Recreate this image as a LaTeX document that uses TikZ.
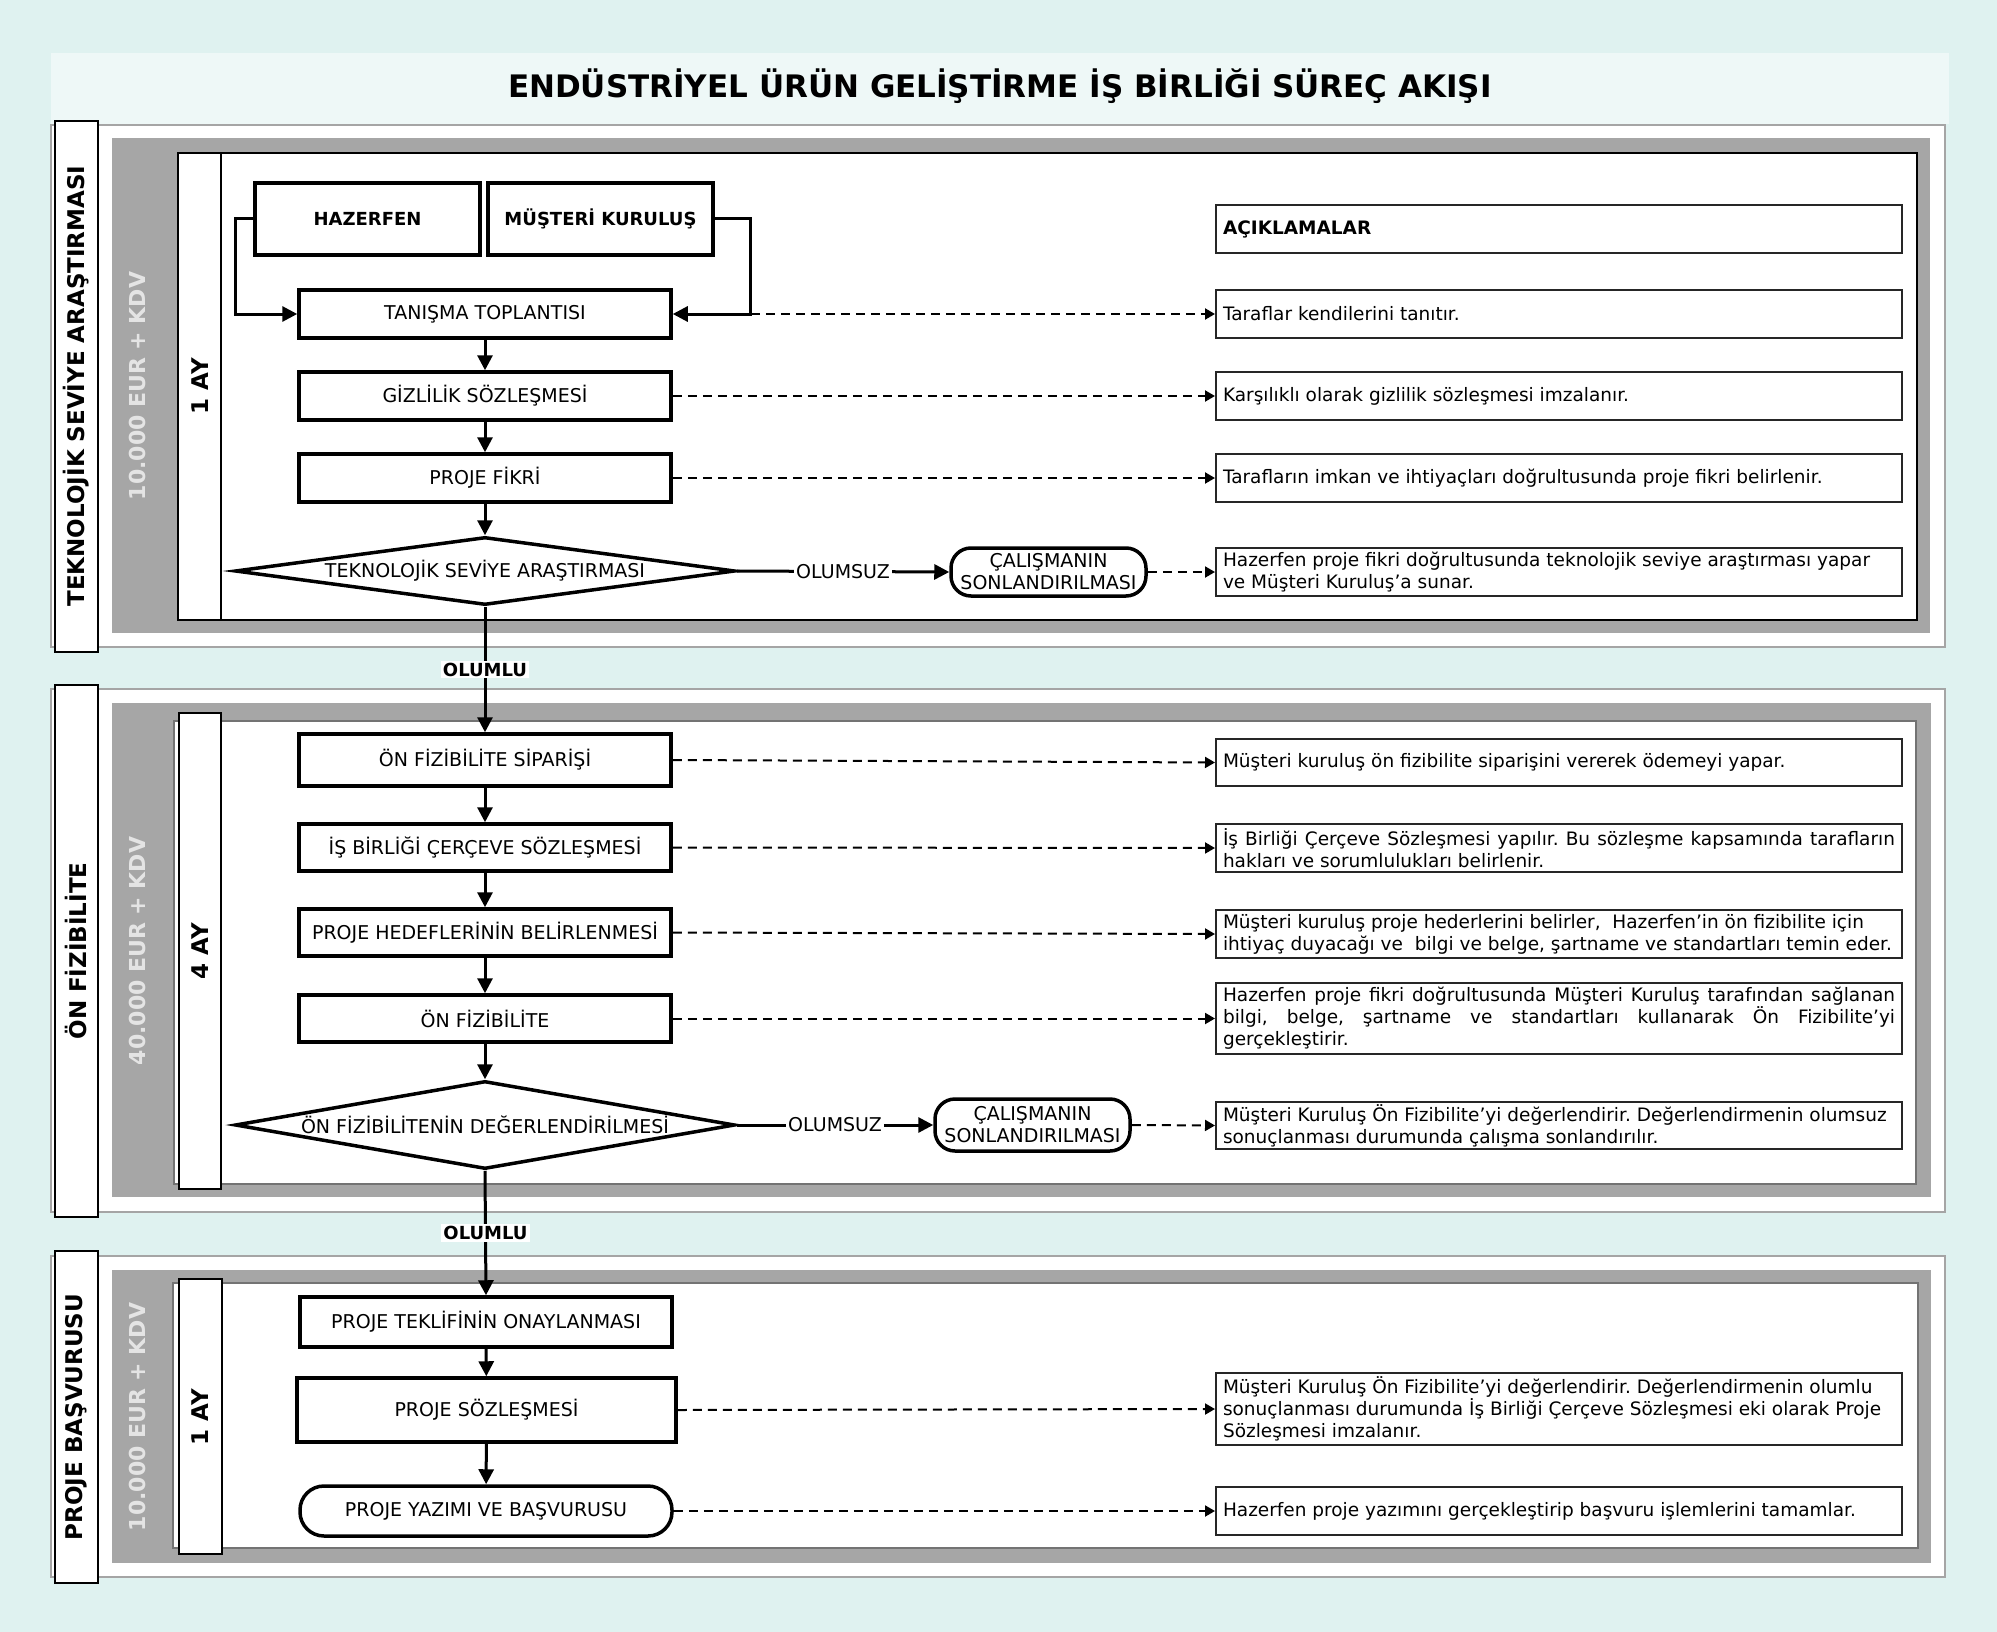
\documentclass[tikz,border=0pt]{standalone}
\usepackage{fontspec}
\setmainfont{DejaVu Sans}
\newfontfamily\lanefont{DejaVu Sans}
\usetikzlibrary{arrows.meta,shapes.geometric}
\frenchspacing

\definecolor{pagebg}{RGB}{223,242,240}
\definecolor{titleband}{RGB}{238,248,247}
\definecolor{panelgrey}{RGB}{166,166,166}
\definecolor{framegrey}{RGB}{165,165,165}
\definecolor{kdvgrey}{RGB}{228,228,228}

\tikzset{
  stepbox/.style={draw, fill=white, line width=3.5pt, minimum width=372pt, minimum height=48pt,
    inner sep=2pt, font=\fontsize{19}{23}\selectfont},
  decision/.style={diamond, draw, fill=white, line width=3.5pt, inner sep=0pt,
    minimum width=500pt, font=\fontsize{19}{23}\selectfont},
  endbox/.style={draw, fill=white, rounded corners=20pt, line width=3.5pt, align=center,
    minimum width=195pt, inner sep=1pt, font=\fontsize{19}{22}\selectfont},
  note/.style={draw=black!85, fill=white, line width=2pt, text width=672pt, inner xsep=7pt,
    inner ysep=2pt, align=justify, font=\fontsize{18.5}{22}\selectfont},
  lanelabel/.style={rotate=90, font=\lanefont\bfseries\fontsize{23}{27}\selectfont},
  costlabel/.style={rotate=90, text=kdvgrey, font=\lanefont\bfseries\fontsize{22}{26}\selectfont},
  flow/.style={line width=3pt, -{Triangle[length=15pt,width=15pt]}},
  notelink/.style={line width=2pt, dash pattern=on 9pt off 6pt, -{Triangle[length=10pt,width=11pt]}},
  answer/.style={fill=white, inner sep=2pt, font=\fontsize{19}{23}\selectfont},
}

\begin{document}
\begin{tikzpicture}[x=1pt, y=-1pt]
\useasboundingbox (0,0) rectangle (1997,1632);
\fill[pagebg] (0,0) rectangle (1997,1632);

% baslik
\fill[titleband] (51,53) rectangle (1949,124);
\node[font=\bfseries\fontsize{31}{35}\selectfont] (title) at (1000,86)
  {ENDÜSTRİYEL ÜRÜN GELİŞTİRME İŞ BİRLİĞİ SÜREÇ AKIŞI};

% 1. asama
\filldraw[fill=white, draw=framegrey, line width=2pt] (51,125) rectangle (1945,647);
\fill[panelgrey] (112,138) rectangle (1930,633);
\draw[fill=white, line width=2pt] (178,153) rectangle (1917,620);
\draw[line width=1.5pt] (221,153) -- (221,620);
\draw[fill=white, line width=2.5pt] (55,121) rectangle (98,652);
\node[lanelabel] (lane1) at (76,386) {TEKNOLOJİK SEVİYE ARAŞTIRMASI};
\node[costlabel] (cost1) at (137,386) {10.000 EUR + KDV};
\node[lanelabel] (time1) at (200,386) {1 AY};

% 2. asama
\filldraw[fill=white, draw=framegrey, line width=2pt] (51,689) rectangle (1945,1212);
\fill[panelgrey] (112,703) rectangle (1931,1197);
\draw[fill=white, draw=black!55, line width=2pt] (174,721) rectangle (1916,1184);
\draw[fill=white, line width=2pt] (179,713) rectangle (221,1189);
\draw[fill=white, line width=2.5pt] (55,685) rectangle (98,1217);
\node[lanelabel] (lane2) at (76,951) {ÖN FİZİBİLİTE};
\node[costlabel] (cost2) at (137,951) {40.000 EUR + KDV};
\node[lanelabel] (time2) at (200,951) {4 AY};

% 3. asama
\filldraw[fill=white, draw=framegrey, line width=2pt] (51,1256) rectangle (1945,1577);
\fill[panelgrey] (112,1270) rectangle (1931,1563);
\draw[fill=white, draw=black!55, line width=2pt] (173,1283) rectangle (1918,1548);
\draw[fill=white, line width=2pt] (179,1279) rectangle (222,1554);
\draw[fill=white, line width=2.5pt] (55,1251) rectangle (98,1583);
\node[lanelabel] (lane3) at (76,1417) {PROJE BAŞVURUSU};
\node[costlabel] (cost3) at (137,1417) {10.000 EUR + KDV};
\node[lanelabel] (time3) at (200,1417) {1 AY};

% adimlar
\node[stepbox, minimum width=225pt, minimum height=72pt, font=\bfseries\fontsize{18}{22}\selectfont] (hazerfen) at (367.5,219) {HAZERFEN};
\node[stepbox, minimum width=225pt, minimum height=72pt, font=\bfseries\fontsize{18}{22}\selectfont] (musteri) at (600.5,219) {MÜŞTERİ KURULUŞ};
\node[stepbox] (tanisma) at (485,314) {TANIŞMA TOPLANTISI};
\node[stepbox] (gizlilik) at (485,396) {GİZLİLİK SÖZLEŞMESİ};
\node[stepbox] (fikir) at (485,478) {PROJE FİKRİ};
\node[decision, aspect=7.4, minimum height=68pt] (arastirma) at (485,571) {TEKNOLOJİK SEVİYE ARAŞTIRMASI};
\node[endbox, minimum height=48pt] (son1) at (1048.5,572) {ÇALIŞMANIN\\SONLANDIRILMASI};

\node[stepbox, minimum height=52pt] (siparis) at (485,760) {ÖN FİZİBİLİTE SİPARİŞİ};
\node[stepbox, minimum height=47pt] (isbirligi) at (485,847.5) {İŞ BİRLİĞİ ÇERÇEVE SÖZLEŞMESİ};
\node[stepbox, minimum height=47pt] (hedef) at (485,932.5) {PROJE HEDEFLERİNİN BELİRLENMESİ};
\node[stepbox, minimum height=47pt] (onfiz) at (485,1018.5) {ÖN FİZİBİLİTE};
\node[decision, aspect=5.7, minimum height=88pt] (degerlendirme) at (485,1125) {ÖN FİZİBİLİTENİN DEĞERLENDİRİLMESİ};
\node[endbox, minimum height=52pt] (son2) at (1032.5,1125) {ÇALIŞMANIN\\SONLANDIRILMASI};

\node[stepbox, minimum height=50pt] (teklif) at (486,1322) {PROJE TEKLİFİNİN ONAYLANMASI};
\node[stepbox, minimum width=379pt, minimum height=64pt] (sozlesme) at (486.5,1410) {PROJE SÖZLEŞMESİ};
\node[stepbox, rounded corners=24pt, minimum height=50pt] (yazim) at (486,1511) {PROJE YAZIMI VE BAŞVURUSU};

% aciklamalar
\node[note, minimum height=48pt, font=\bfseries\fontsize{18.5}{22}\selectfont] (aciklama) at (1559,229) {AÇIKLAMALAR};
\node[note, minimum height=48pt] (not1) at (1559,314) {Taraflar kendilerini tanıtır.};
\node[note, minimum height=48pt] (not2) at (1559,396) {Karşılıklı olarak gizlilik sözleşmesi imzalanır.};
\node[note, minimum height=48pt] (not3) at (1559,478) {Tarafların imkan ve ihtiyaçları doğrultusunda proje fikri belirlenir.};
\node[note, minimum height=48pt] (not4) at (1559,572) {Hazerfen proje fikri doğrultusunda teknolojik seviye araştırması yapar\newline ve Müşteri Kuruluş’a sunar.};
\node[note, minimum height=47pt] (not5) at (1559,762.5) {Müşteri kuruluş ön fizibilite siparişini vererek ödemeyi yapar.};
\node[note, minimum height=48pt] (not6) at (1559,848) {İş Birliği Çerçeve Sözleşmesi yapılır. Bu sözleşme kapsamında tarafların\linebreak hakları ve sorumlulukları belirlenir.};
\node[note, minimum height=48pt] (not7) at (1559,934) {Müşteri kuruluş proje hederlerini belirler,~ Hazerfen’in ön fizibilite için\newline ihtiyaç duyacağı ve~ bilgi ve belge, şartname ve standartları temin eder.};
\node[note, minimum height=71pt] (not8) at (1559,1018.5) {Hazerfen proje fikri doğrultusunda Müşteri Kuruluş tarafından sağlanan\linebreak bilgi, belge, şartname ve standartları kullanarak Ön Fizibilite’yi\linebreak gerçekleştirir.};
\node[note, minimum height=47pt] (not9) at (1559,1125.5) {Müşteri Kuruluş Ön Fizibilite’yi değerlendirir. Değerlendirmenin olumsuz\newline sonuçlanması durumunda çalışma sonlandırılır.};
\node[note, minimum height=72pt] (not10) at (1559,1409) {Müşteri Kuruluş Ön Fizibilite’yi değerlendirir. Değerlendirmenin olumlu\newline sonuçlanması durumunda İş Birliği Çerçeve Sözleşmesi eki olarak Proje\newline Sözleşmesi imzalanır.};
\node[note, minimum height=48pt] (not11) at (1559,1511) {Hazerfen proje yazımını gerçekleştirip başvuru işlemlerini tamamlar.};

% akis oklari
\draw[flow] (hazerfen.west) -- ++(-18,0) |- (tanisma.west);
\draw[flow] (musteri.east) -- ++(36,0) coordinate (mturn) |- (tanisma.east);
\draw[flow] (tanisma) -- (gizlilik);
\draw[flow] (gizlilik) -- (fikir);
\draw[flow] (fikir) -- (arastirma);
\draw[flow] (arastirma.east) -- node[answer] (olumsuz1) {OLUMSUZ} (son1.west);
\draw[flow] (arastirma.south) -- node[answer, font=\bfseries\fontsize{18}{22}\selectfont] (olumlu1) {OLUMLU} (siparis.north);
\draw[flow] (siparis) -- (isbirligi);
\draw[flow] (isbirligi) -- (hedef);
\draw[flow] (hedef) -- (onfiz);
\draw[flow] (onfiz) -- (degerlendirme);
\draw[flow] (degerlendirme.east) -- node[answer] (olumsuz2) {OLUMSUZ} (son2.west);
\draw[flow] (degerlendirme.south) -- node[answer, font=\bfseries\fontsize{18}{22}\selectfont] (olumlu2) {OLUMLU} (teklif.north);
\draw[flow] (teklif) -- (sozlesme);
\draw[flow] (sozlesme) -- (yazim);

% aciklama baglantilari
\draw[notelink] (tanisma.east -| mturn) -- (not1.west);
\draw[notelink] (gizlilik.east) -- (not2.west);
\draw[notelink] (fikir.east) -- (not3.west);
\draw[notelink] (son1.east) -- (not4.west);
\draw[notelink] (siparis.east) -- (not5.west);
\draw[notelink] (isbirligi.east) -- (not6.west);
\draw[notelink] (hedef.east) -- (not7.west);
\draw[notelink] (onfiz.east) -- (not8.west);
\draw[notelink] (son2.east) -- (not9.west);
\draw[notelink] (sozlesme.east) -- (not10.west);
\draw[notelink] (yazim.east) -- (not11.west);
\end{tikzpicture}
\end{document}
